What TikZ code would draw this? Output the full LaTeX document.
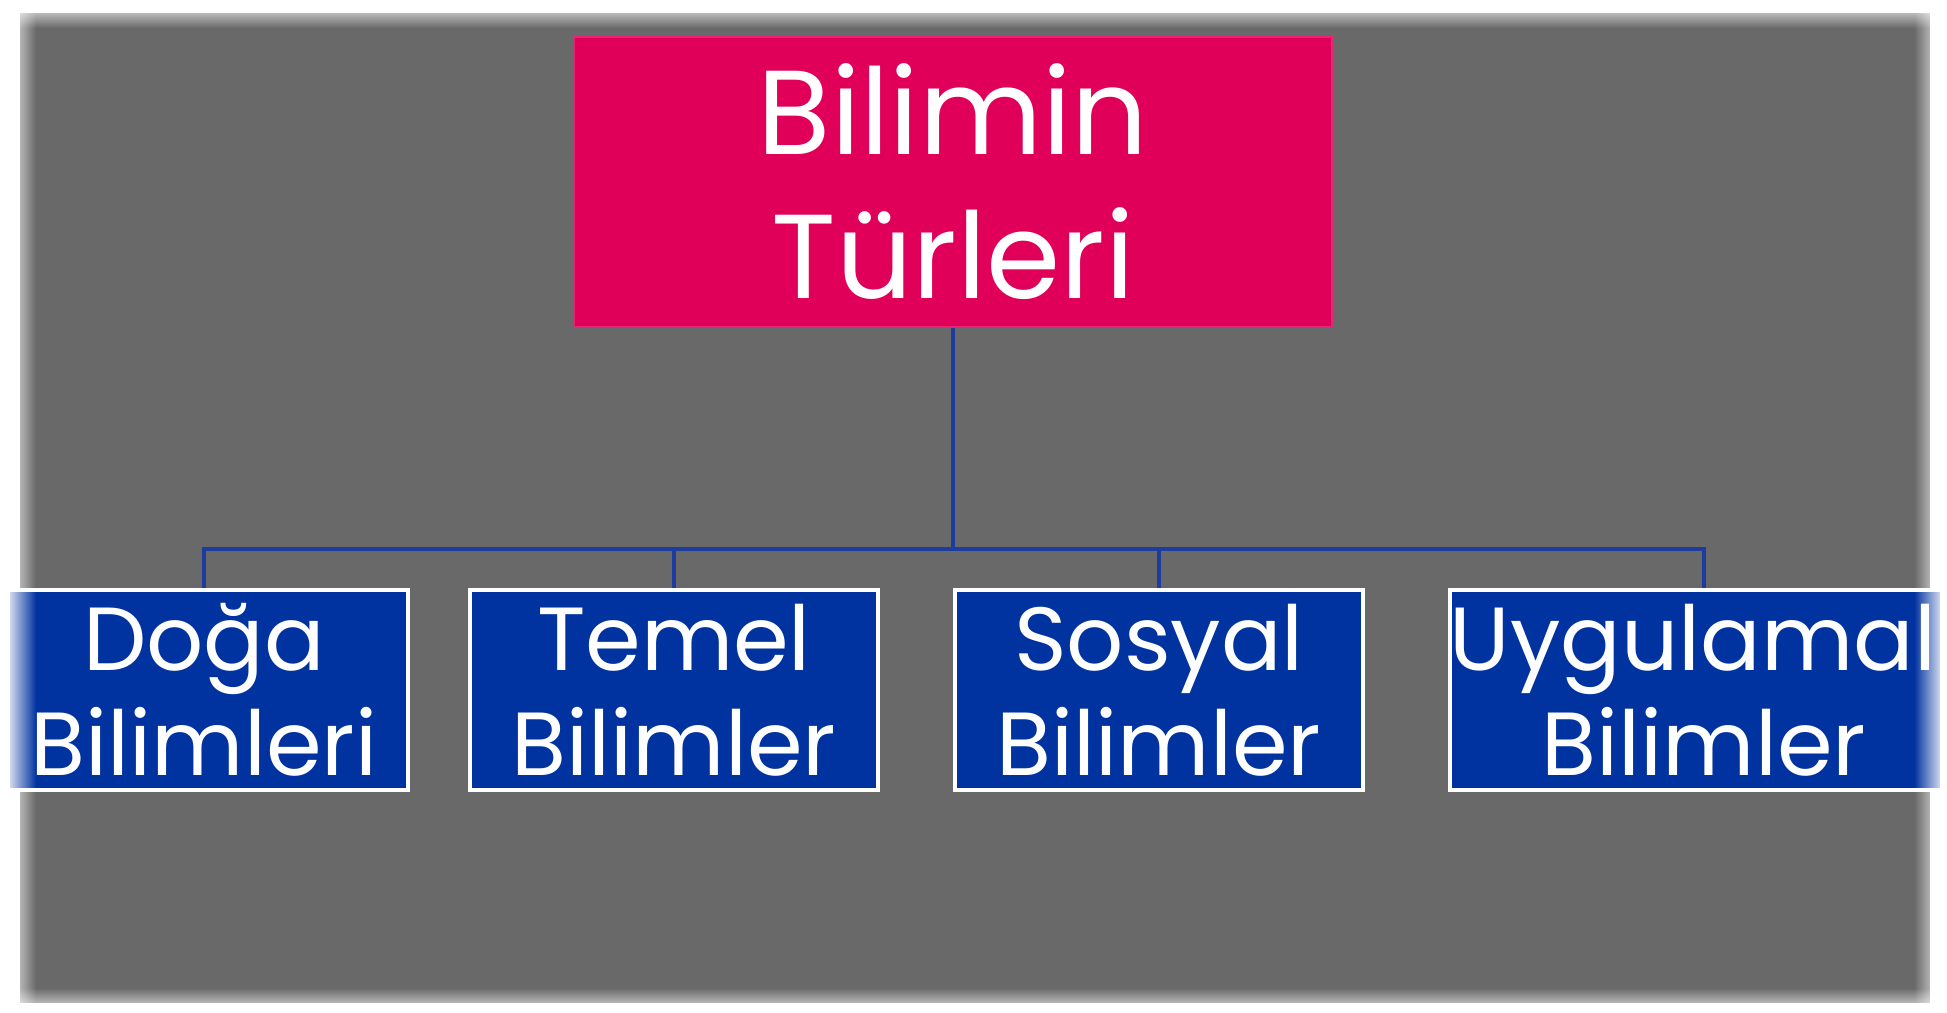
\documentclass[tikz,border=0pt]{standalone}
\usepackage{fontspec}
\newfontfamily\gothic{Poppins}
\usetikzlibrary{positioning,fadings}
\definecolor{slidegray}{HTML}{696969}
\definecolor{rootpink}{HTML}{E0005A}
\definecolor{leafblue}{HTML}{0033A0}
\definecolor{linkblue}{HTML}{1E3C9E}

\begin{document}
\begin{tikzpicture}[
	rootnode/.style={rectangle, fill=rootpink, draw=rootpink!85!white, line width=0.6pt, minimum width=7.58cm, minimum height=2.90cm, inner sep=0pt, text=white, align=center, font=\gothic\fontsize{34}{41}\selectfont},
	leafnode/.style={rectangle, fill=leafblue, draw=white, line width=1.2pt, minimum width=4.08cm, minimum height=2.0cm, inner sep=0pt, text=white, align=center, font=\gothic\fontsize{25.5}{30}\selectfont},
	link/.style={draw=linkblue, line width=1.2pt},
	]
	\useasboundingbox (0,0) rectangle (19.47,-10.13);
	\fill[slidegray] (0.2,-0.13) rectangle (19.30,-10.03);
	
	%Nodes
	\node[rootnode]     (bilim)    at (9.53,-1.82) {Bilimin\\Türleri};
	\node[leafnode]     (doga)     at (2.04,-6.90) {Doğa\\Bilimleri};
	\node[leafnode]     (temel)    at (6.74,-6.90) {Temel\\Bilimler};
	\node[leafnode]     (sosyal)   at (11.59,-6.90) {Sosyal\\Bilimler};
	\node[leafnode, minimum width=5.06cm] (uygulama) at (17.04,-6.90) {Uygulamalı\\Bilimler};
	
	%Lines
	\foreach \leaf in {doga,temel,sosyal,uygulama}
		\draw[link] (bilim.south) -- ++(0,-2.21) -| (\leaf.north);
	
	%Soft edges
	\fill[white] (-0.1,0.1) rectangle (0.1,-10.3);
	\fill[white] (19.4,0.1) rectangle (19.6,-10.3);
	\fill[white, path fading=east]  (0.04,0.1) rectangle (0.36,-10.3);
	\fill[white, path fading=west]  (19.14,0.1) rectangle (19.46,-10.3);
	\fill[white, path fading=south] (-0.1,0) rectangle (19.6,-0.28);
	\fill[white, path fading=north] (-0.1,-9.88) rectangle (19.6,-10.16);
\end{tikzpicture}
\end{document}
